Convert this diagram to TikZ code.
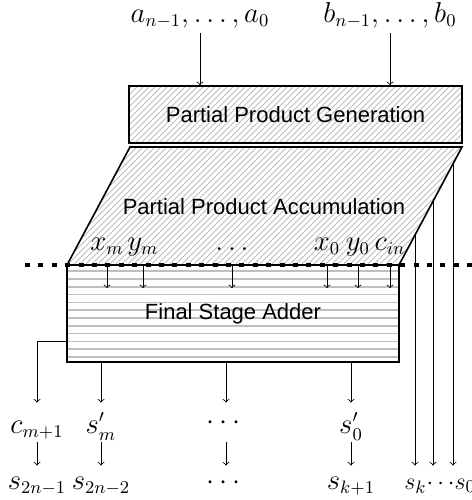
\documentclass[tikz,border=0pt]{standalone}
\usepackage{amsmath}
\usepackage{fontspec}
\setsansfont{Liberation Sans}
\usepackage{tikz}
\usetikzlibrary{patterns,calc}

\begin{document}
\begin{tikzpicture}[x=0.5pt, y=-0.5pt,
        block/.style={draw, thick, inner sep=0pt, font=\fontsize{11}{13}\selectfont\sffamily},
        hlines/.style={path picture={\foreach \k in {1,...,12}
            \draw[gray!50] ([yshift=-3.9pt*\k+0.8pt]path picture bounding box.north west)
                -- ([yshift=-3.9pt*\k+0.8pt]path picture bounding box.north east);}},
        lbl/.style={inner sep=2pt, anchor=base, font=\fontsize{13.5}{16}\selectfont},
        midrow/.style={lbl, text height=13pt, text depth=2.5pt},
        lowrow/.style={lbl, text height=9.5pt}]
    \useasboundingbox (0,0) rectangle (472,500);
        \node[lbl, text depth=3.5pt] (a) at (200,22) {$a_{n-1},\ldots,a_0$};
        \node[lbl, text depth=3.5pt] (b) at (390,22) {$b_{n-1},\ldots,b_0$};
        \node[block, pattern=north east lines, pattern color=gray!50,
              minimum width=166.5pt, minimum height=28.5pt] (ppg) at (295.5,114.5) {Partial Product Generation};
        \draw[->] (a) -- (a |- ppg.north);
        \draw[->] (b) -- (b |- ppg.north);
        \draw[thick, pattern=north east lines, pattern color=gray!50]
            (67,265) coordinate (sw) -- (130,147) coordinate (nw)
            -- (462,147) coordinate (ne) -- (399,265) coordinate (se) -- cycle;
        \node[font=\fontsize{11}{13}\selectfont\sffamily] (ppa) at (264,207) {Partial Product Accumulation};
        \node[block, hlines, minimum width=166pt, minimum height=48.5pt] (fsa) at (233,313.5) {Final Stage Adder};
        \node[lbl] (xm) at (107,250) {$x_m$};
        \node[lbl] (ym) at (143,250) {$y_m$};
        \node[lbl] (mid) at (232,250) {$\ldots$};
        \node[lbl] (x0) at (327,250) {$x_0$};
        \node[lbl] (y0) at (358,250) {$y_0$};
        \node[lbl] (cin) at (390,250) {$c_{in}$};
        \foreach \n in {xm,ym,mid,x0,y0,cin}
            \draw[->] (\n |- fsa.north) -- ++(0,24);
        \draw[line width=2.2pt, dash pattern=on 2.5pt off 4.2pt] (25,265) -- (472,265);
        \node[midrow] (c1) at (37,433) {$c_{m+1}$};
        \node[midrow] (sm) at (101,433) {$s'_m$};
        \node[lbl, text height=11pt, text depth=4.5pt] (md) at (226,429) {$\cdots$};
        \node[midrow] (s0) at (351,433) {$s'_0$};
        \node[lowrow] (t1) at (37,489) {$s_{2n-1}$};
        \node[lowrow] (t2) at (101,489) {$s_{2n-2}$};
        \node[lowrow] (td) at (226,489) {$\cdots$};
        \node[lowrow] (t3) at (351,489) {$s_{k+1}$};
        \node[lowrow, anchor=base west, inner xsep=0pt, font=\fontsize{12.5}{15}\selectfont] (sk) at (404,489) {$s_k\!\cdots\! s_0$};
        \draw[->] ([yshift=10.5pt]fsa.south west) -| (c1);
        \foreach \n in {sm,md,s0}
            \draw[->] (\n |- fsa.south) -- (\n);
        \draw[->] (c1) -- (t1);
        \draw[->] (sm) -- (t2);
        \draw[->] (md) -- (td);
        \draw[->] (s0) -- (t3);
        \foreach \t/\n in {0.746/r1,0.46/r2,0.143/r3} {
            \coordinate (\n) at ($(ne)!\t!(se)$);
            \draw[->] (\n) -- (\n |- sk.north);
        }
\end{tikzpicture}
\end{document}
